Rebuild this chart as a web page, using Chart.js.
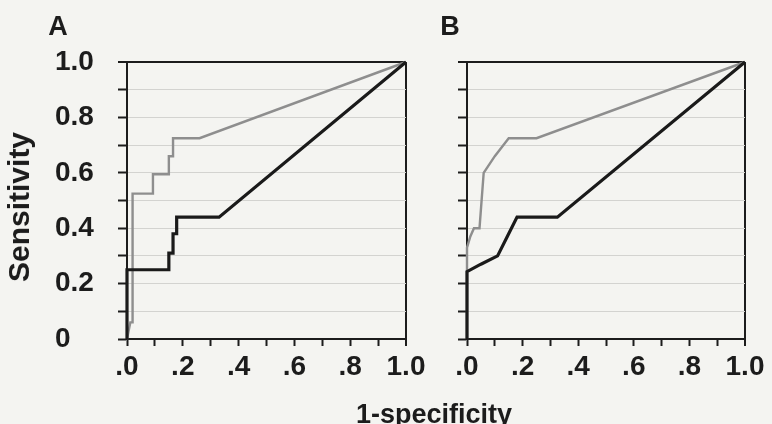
<!DOCTYPE html>
<html><head><meta charset="utf-8">
<script src="https://cdn.jsdelivr.net/npm/chart.js@4"></script>
<style>
html,body{margin:0;padding:0;background:#f4f4f1;width:772px;height:424px;overflow:hidden;}
#wrap{position:relative;width:772px;height:424px;font-family:'Liberation Sans',Arial,sans-serif;font-weight:bold;color:#1c1c1c;}
canvas{position:absolute;top:0;}
.lbl{position:absolute;white-space:nowrap;line-height:1;}
</style></head><body>
<div id="wrap">
<canvas id="cA" width="440" height="424" style="left:0px"></canvas>
<canvas id="cB" width="332" height="424" style="left:440px"></canvas>
<div class="lbl" style="left:58px;top:13px;font-size:27px;transform:translateX(-50%)">A</div>
<div class="lbl" style="left:450px;top:13px;font-size:27px;transform:translateX(-50%)">B</div>
<div class="lbl" style="left:19px;top:207px;font-size:30px;transform:translate(-50%,-50%) rotate(-90deg)">Sensitivity</div>
<div class="lbl" style="left:434px;top:401px;font-size:27px;transform:translateX(-50%)">1-specificity</div>
</div>
<script>
// tick labels (index 0 = value 0, step 0.1)
const xTickLabels = ['.0','','.2','','.4','','.6','','.8','','1.0'];
const yTickLabels = ['0','','0.2','','0.4','','0.6','','0.8','','1.0'];

// Panel A
const aGrayFpr  = [0, 0.012, 0.02, 0.02, 0.093, 0.093, 0.15, 0.15, 0.165, 0.165, 0.26, 1];
const aGrayTpr  = [0, 0.06, 0.06, 0.525, 0.525, 0.595, 0.595, 0.66, 0.66, 0.725, 0.725, 1];
const aBlackFpr = [0, 0, 0.15, 0.15, 0.165, 0.165, 0.178, 0.178, 0.33, 1];
const aBlackTpr = [0, 0.25, 0.25, 0.31, 0.31, 0.38, 0.38, 0.44, 0.44, 1];

// Panel B
const bGrayFpr  = [0, 0, 0.012, 0.025, 0.045, 0.06, 0.1, 0.15, 0.25, 1];
const bGrayTpr  = [0, 0.33, 0.37, 0.40, 0.40, 0.60, 0.66, 0.725, 0.725, 1];
const bBlackFpr = [0, 0, 0.05, 0.11, 0.145, 0.18, 0.325, 1];
const bBlackTpr = [0, 0.243, 0.27, 0.30, 0.37, 0.44, 0.44, 1];

const DARK = '#1c1c1c';
const GRID = '#d3d3d0';
const FONT = {family:"'Liberation Sans', Arial, sans-serif", size:28, weight:'bold'};

function pts(xs, ys){ return xs.map((x,i)=>({x:x, y:ys[i]})); }

function makeChart(id, blackF, blackT, grayF, grayT, showY, padding, yWidth){
  return new Chart(document.getElementById(id), {
    type:'line',
    data:{datasets:[
      {data:pts(blackF, blackT), borderColor:'#1a1a1a', borderWidth:3.2, pointRadius:0, tension:0, fill:false, clip:5},
      {data:pts(grayF, grayT), borderColor:'#8e8e8e', borderWidth:2.4, pointRadius:0, tension:0, fill:false, clip:5}
    ]},
    options:{
      responsive:false, animation:false, devicePixelRatio:1,
      layout:{padding:padding},
      plugins:{legend:{display:false}, tooltip:{enabled:false}, title:{display:false}},
      scales:{
        x:{type:'linear', min:0, max:1,
          afterFit:(s)=>{ s.height = 85; },
          border:{color:DARK, width:2},
          grid:{drawTicks:true, tickLength:7, tickColor:DARK, tickWidth:2,
            color:(c)=> c.index===10 ? DARK : 'rgba(0,0,0,0)',
            lineWidth:(c)=> c.index===10 ? 2 : 1},
          ticks:{stepSize:0.1, autoSkip:false, maxRotation:0, padding:4, color:DARK, font:FONT,
            callback:(v,i)=> xTickLabels[i]}
        },
        y:{type:'linear', min:0, max:1,
          afterFit:(s)=>{ s.width = yWidth; },
          border:{color:DARK, width:2},
          grid:{drawTicks:true, tickLength:9, tickColor:DARK, tickWidth:2,
            color:(c)=> c.index===10 ? DARK : (c.index===0 ? 'rgba(0,0,0,0)' : GRID),
            lineWidth:(c)=> c.index===10 ? 2 : 1},
          ticks:{display:showY, stepSize:0.1, autoSkip:false, crossAlign:'far', padding:8, color:DARK, font:FONT,
            callback:(v,i)=> yTickLabels[i]}
        }
      }
    }
  });
}

makeChart('cA', aBlackFpr, aBlackTpr, aGrayFpr, aGrayTpr, true, {left:55, top:62, right:34, bottom:0}, 72);
makeChart('cB', bBlackFpr, bBlackTpr, bGrayFpr, bGrayTpr, false, {left:0, top:62, right:27, bottom:0}, 27);
</script>
</body></html>
